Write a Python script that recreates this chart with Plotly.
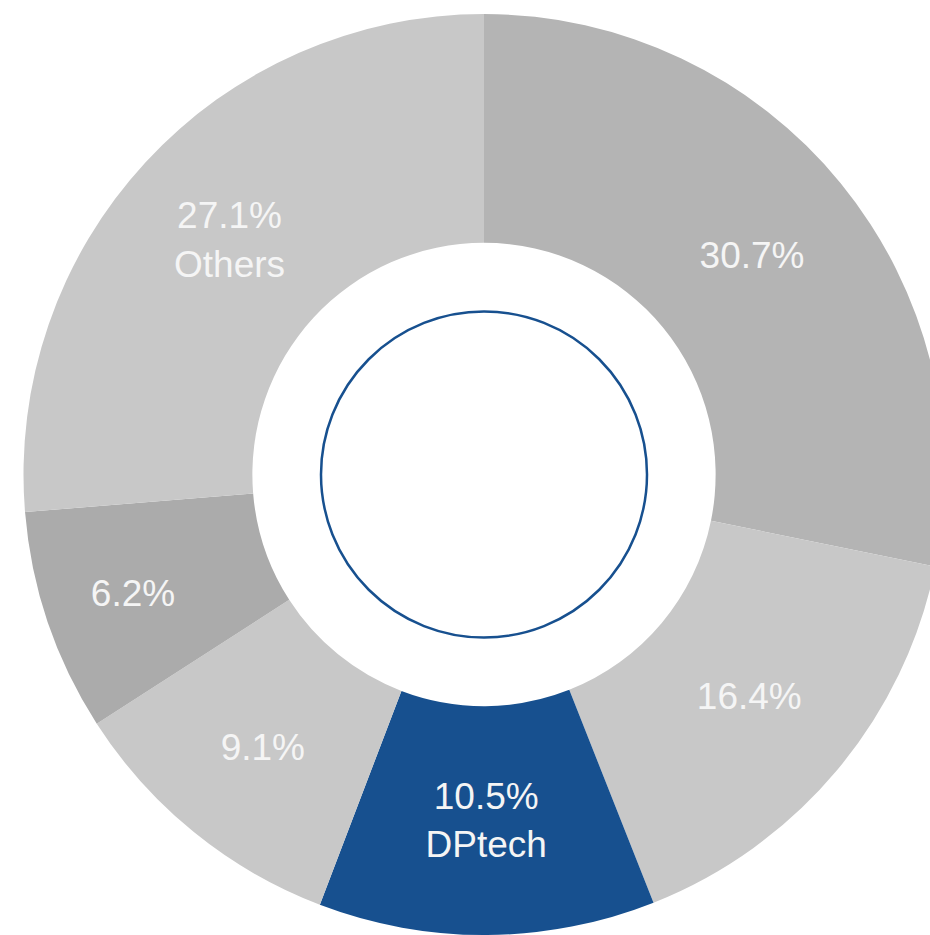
import plotly.graph_objects as go

# Data
segments = ["Competitor A", "Competitor B", "DPtech", "Competitor C", "Competitor D", "Others"]
shown_names = ["", "", "DPtech", "", "", "Others"]
share_labels = [30.7, 16.4, 10.5, 9.1, 6.2, 27.1]          # printed percentages
drawn_arc_share = [28.2, 15.8, 11.8, 10.1, 7.8, 26.3]      # arc sizes as drawn in the picture
slice_colors = ["#b4b4b4", "#c8c8c8", "#17508f", "#c8c8c8", "#ababab", "#c8c8c8"]

texts = [f"{v}%" + (f"<br>{n}" if n else "") for v, n in zip(share_labels, shown_names)]

W, H = 950, 935
ML, MR, MT, MB = 23, 5, 14, 0
plot_w = W - ML - MR
plot_h = H - MT - MB

fig = go.Figure(
    go.Pie(
        labels=segments,
        values=drawn_arc_share,
        text=texts,
        textinfo="text",
        textposition="inside",
        insidetextorientation="horizontal",
        sort=False,
        direction="clockwise",
        rotation=0,
        hole=0.503,
        marker=dict(colors=slice_colors, line=dict(width=0)),
        textfont=dict(family="Liberation Sans, Arial, sans-serif", size=37, color="#f5f5f5"),
        showlegend=False,
        hoverinfo="label+text",
    )
)

# thin blue ring inside the hole
ring_r_px = 163
rx = ring_r_px / plot_w
ry = ring_r_px / plot_h
fig.add_shape(
    type="circle", xref="paper", yref="paper",
    x0=0.5 - rx, x1=0.5 + rx, y0=0.5 - ry, y1=0.5 + ry,
    line=dict(color="#17508f", width=2.5), fillcolor="rgba(0,0,0,0)",
)

fig.update_layout(
    width=W, height=H,
    margin=dict(l=ML, r=MR, t=MT, b=MB, pad=0),
    paper_bgcolor="white", plot_bgcolor="white",
    uniformtext=dict(minsize=37, mode="show"),
)

fig.write_html(
    "out.html",
    config={"displayModeBar": False},
    post_script="document.body.style.margin='0';document.body.style.overflow='hidden';",
)
